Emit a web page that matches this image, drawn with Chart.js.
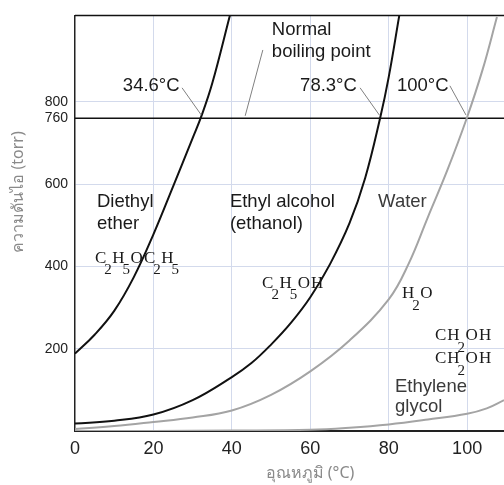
<!DOCTYPE html>
<html>
<head>
<meta charset="utf-8">
<script src="https://cdn.jsdelivr.net/npm/chart.js@4/dist/chart.umd.min.js"></script>
<style>
  html, body { margin: 0; padding: 0; background: #ffffff; }
  #wrap { width: 504px; height: 485px; position: relative; }
</style>
</head>
<body>
<div id="wrap"><canvas id="c" width="504" height="485"></canvas></div>
<script>
// ---- data (temperature °C, vapour pressure torr) ----
const tempEther   = [0, 5, 10, 15, 20, 25, 30, 32.3, 35, 39.5];
const pEther      = [188, 234, 292, 374, 478, 594, 712, 767, 845, 1010];

const tempEthanol = [0, 10, 20, 30, 40, 45, 50, 55, 60, 65, 70, 74, 77.8, 80, 82.7];
const pEthanol    = [18, 25, 40, 75, 131, 165, 210, 262, 325, 405, 505, 615, 760, 860, 1010];

const tempWater   = [0, 10, 20, 30, 40, 50, 60, 70, 80, 85, 90, 95, 99.9, 104, 107.6];
const pWater      = [5, 12, 22, 33, 50, 88, 145, 220, 320, 405, 520, 635, 760, 880, 1006];

const tempGlycol  = [0, 20, 40, 60, 70, 80, 90, 100, 105, 109.4];
const pGlycol     = [0, 0, 1, 3, 8, 16, 28, 42, 55, 75];

const normalPressure = 760;
const xRange = [0, 109.4];
const yRange = [0, 1010];
const xTicks = [0, 20, 40, 60, 80, 100];
const yTicks = [200, 400, 600, 760, 800];

const xTitle = 'อุณหภูมิ (°C)';
const yTitle = 'ความดันไอ (torr)';

// ---- annotation texts (in data units) ----
const textNotes = [
  { t: 'Normal',        x: 50.2, y: 974 },
  { t: 'boiling point', x: 50.2, y: 921 },
  { t: '34.6°C',        x: 12.2, y: 839 },
  { t: '78.3°C',        x: 57.4, y: 839 },
  { t: '100°C',         x: 82.1, y: 839 },
  { t: 'Diethyl',       x: 5.6,  y: 557 },
  { t: 'ether',         x: 5.6,  y: 504 },
  { t: 'Ethyl alcohol', x: 39.5, y: 557 },
  { t: '(ethanol)',     x: 39.5, y: 504 },
  { t: 'Water',         x: 77.3, y: 557, c: '#3a3a3a' },
  { t: 'Ethylene',      x: 81.6, y: 106, c: '#3a3a3a' },
  { t: 'glycol',        x: 81.6, y: 58,  c: '#3a3a3a' }
];
const formulaNotes = [
  { t: 'C2H5OC2H5', x: 5.1,  y: 420 },
  { t: 'C2H5OH',    x: 47.7, y: 359 },
  { t: 'H2O',       x: 83.4, y: 333 },
  { t: 'CH2OH',     x: 91.8, y: 231 },
  { t: 'CH2OH',     x: 91.8, y: 176 }
];
const leaders = [
  [27.3, 834, 32.2, 768],
  [72.7, 834, 77.6, 768],
  [95.6, 839, 99.7, 768],
  [47.9, 926, 43.4, 766]
];

const pts = (xs, ys) => xs.map((x, i) => ({ x: x, y: ys[i] }));

const annotate = {
  id: 'annotate',
  afterDatasetsDraw(chart) {
    const { ctx, chartArea, scales } = chart;
    const X = v => scales.x.getPixelForValue(v);
    const Y = v => scales.y.getPixelForValue(v);
    ctx.save();
    // top frame line
    ctx.strokeStyle = '#111';
    ctx.lineWidth = 1.5;
    ctx.beginPath();
    ctx.moveTo(chartArea.left, chartArea.top);
    ctx.lineTo(chartArea.right, chartArea.top);
    ctx.stroke();
    // leader lines
    ctx.strokeStyle = '#808080';
    ctx.lineWidth = 1;
    leaders.forEach(l => {
      ctx.beginPath();
      ctx.moveTo(X(l[0]), Y(l[1]));
      ctx.lineTo(X(l[2]), Y(l[3]));
      ctx.stroke();
    });
    // plain texts
    ctx.font = '18.5px "Liberation Sans", Arial, sans-serif';
    ctx.textBaseline = 'middle';
    ctx.textAlign = 'left';
    textNotes.forEach(n => {
      ctx.fillStyle = n.c || '#1a1a1a';
      ctx.fillText(n.t, X(n.x), Y(n.y));
    });
    // chemical formulas with subscripts
    ctx.fillStyle = '#1a1a1a';
    formulaNotes.forEach(n => {
      let px = X(n.x);
      const py = Y(n.y);
      for (const ch of n.t) {
        if (/[0-9]/.test(ch)) {
          ctx.font = '15px "Liberation Serif", "Times New Roman", serif';
          ctx.fillText(ch, px - 3, py + 12);
          px += 5;
        } else {
          ctx.font = '17px "Liberation Serif", "Times New Roman", serif';
          ctx.fillText(ch, px, py);
          px += ctx.measureText(ch).width + 1;
        }
      }
    });
    // axis titles
    ctx.fillStyle = '#8a8a8a';
    ctx.font = '16px "Noto Sans", "DejaVu Sans", sans-serif';
    ctx.textAlign = 'center';
    ctx.fillText(xTitle, 310, 473);
    ctx.translate(18, 192);
    ctx.rotate(-Math.PI / 2);
    ctx.fillText(yTitle, 0, 0);
    ctx.restore();
  }
};

const gridColor = '#d3daec';

new Chart(document.getElementById('c'), {
  type: 'scatter',
  data: {
    datasets: [
      { label: 'Diethyl ether', data: pts(tempEther, pEther), borderColor: '#111', borderWidth: 2 },
      { label: 'Ethyl alcohol', data: pts(tempEthanol, pEthanol), borderColor: '#111', borderWidth: 2 },
      { label: 'Water', data: pts(tempWater, pWater), borderColor: '#a4a4a4', borderWidth: 2 },
      { label: 'Ethylene glycol', data: pts(tempGlycol, pGlycol), borderColor: '#a4a4a4', borderWidth: 2 },
      { label: 'Normal boiling point', data: pts(xRange, [normalPressure, normalPressure]), borderColor: '#111', borderWidth: 1.6, tension: 0 }
    ].map(d => Object.assign({ showLine: true, pointRadius: 0, fill: false, tension: 0.4 }, d))
  },
  options: {
    responsive: false,
    animation: false,
    layout: { padding: { top: 12, right: 0, left: 0, bottom: 0 } },
    plugins: { legend: { display: false }, tooltip: { enabled: false } },
    scales: {
      x: {
        type: 'linear',
        min: xRange[0],
        max: xRange[1],
        afterBuildTicks: s => { s.ticks = xTicks.map(v => ({ value: v })); },
        afterFit: s => { s.height = 54; },
        grid: { color: c => (c.tick && c.tick.value === 0) ? 'rgba(0,0,0,0)' : gridColor, lineWidth: 1, drawTicks: false },
        border: { display: true, color: '#222', width: 2 },
        ticks: { color: '#222', padding: 7, autoSkip: false, maxRotation: 0, font: { family: '"Liberation Sans", Arial, sans-serif', size: 18 } }
      },
      y: {
        type: 'linear',
        min: yRange[0],
        max: yRange[1],
        afterBuildTicks: s => { s.ticks = yTicks.map(v => ({ value: v })); },
        afterFit: s => { s.width = 75; },
        grid: { color: c => (c.tick && c.tick.value === normalPressure) ? 'rgba(0,0,0,0)' : gridColor, lineWidth: 1, drawTicks: false },
        border: { display: true, color: '#222', width: 1.5 },
        ticks: { color: '#222', padding: 7, autoSkip: false, font: { family: '"Liberation Sans", Arial, sans-serif', size: 14 } }
      }
    }
  },
  plugins: [annotate]
});
</script>
</body>
</html>
